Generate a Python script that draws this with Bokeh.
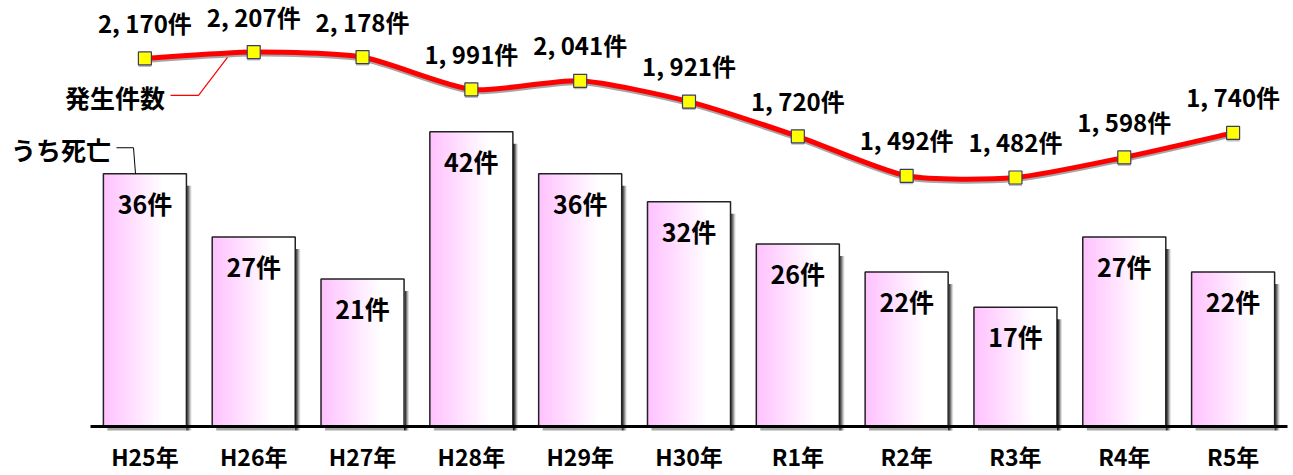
from bokeh.plotting import figure
from bokeh.models import Range1d
from bokeh.core.properties import value
from bokeh.embed import file_html
from bokeh.resources import INLINE

# --- data -------------------------------------------------------------
years = ["H25年", "H26年", "H27年", "H28年", "H29年", "H30年",
         "R1年", "R2年", "R3年", "R4年", "R5年"]
cases = [2170, 2207, 2178, 1991, 2041, 1921, 1720, 1492, 1482, 1598, 1740]
deaths = [36, 27, 21, 42, 36, 32, 26, 22, 17, 27, 22]

# --- layout -------------------------------------------------------------
W, H = 1293, 475
X0, X1 = -1.327, 10.555
Y0, Y1 = -6.98, 60.68
C0, C1 = -240, 2505
px_x = W / (X1 - X0)            # pixels per category step
px_y = H / (Y1 - Y0)            # pixels per death count
px_c = H / (C1 - C0)            # pixels per case count

FONT = value("Noto Sans CJK JP")

p = figure(width=W, height=H, output_backend="svg", toolbar_location=None,
           x_range=Range1d(X0, X1), y_range=Range1d(Y0, Y1),
           min_border=0, background_fill_color="white",
           border_fill_color="white", outline_line_color=None)
shade = 2.0 / px_c
p.extra_y_ranges = {"cases": Range1d(C0, C1),
                    "shade": Range1d(C0 + shade, C1 + shade)}
p.grid.visible = False
p.axis.visible = False

idx = list(range(len(years)))
bw = 0.763

# --- bar shadows --------------------------------------------------------
sh_l, sh_r, sh_t, sh_b, sh_a = [], [], [], [], []
alphas = [0.95, 0.8, 0.55, 0.3, 0.12]
for i, d in zip(idx, deaths):
    right = i + bw / 2
    for s, a in enumerate(alphas):
        sh_l.append(right + s / px_x)
        sh_r.append(right + (s + 1) / px_x)
        sh_t.append(d - 12 / px_y)
        sh_b.append(-4 / px_y)
        sh_a.append(a)
    # soft shade under the base line
    sh_l.append(i - bw / 2 + 4 / px_x)
    sh_r.append(right)
    sh_t.append(0)
    sh_b.append(-4 / px_y)
    sh_a.append(0.35)
p.quad(left=sh_l, right=sh_r, top=sh_t, bottom=sh_b, fill_color="black",
       fill_alpha=sh_a, line_color=None)

# --- bars with pink -> white gradient --------------------------------
N = 30
pink = (255, 194, 255)
g_l, g_r, g_t, g_c = [], [], [], []
for i, d in zip(idx, deaths):
    for k in range(N):
        f = k / N
        t = min(f / 0.7, 1.0)
        col = tuple(round(c + (255 - c) * t) for c in pink)
        g_l.append(i - bw / 2 + f * bw)
        g_r.append(i + bw / 2)
        g_t.append(d)
        g_c.append("#%02x%02x%02x" % col)
p.quad(left=g_l, right=g_r, top=g_t, bottom=[0] * len(g_l),
       fill_color=g_c, line_color=None)
p.quad(left=[i - bw / 2 for i in idx], right=[i + bw / 2 for i in idx],
       top=deaths, bottom=[0] * len(idx), fill_color=None,
       line_color="#222222", line_width=1.5)

# base line
p.segment(x0=[-0.5], y0=[0], x1=[len(years) - 0.5], y1=[0],
          line_color="black", line_width=3)

# bar value labels
p.text(x=idx, y=deaths, text=[f"{d}件" for d in deaths], y_offset=29,
       text_align="center", text_baseline="middle", text_font=FONT,
       text_font_style="bold", text_font_size="25px", text_color="black")

# category labels under the base line
p.text(x=idx, y=[0] * len(idx), text=years, y_offset=30,
       text_align="center", text_baseline="middle", text_font=FONT,
       text_font_style="bold", text_font_size="23px", text_color="black")

# --- smoothed case line (cubic Bezier through every point) -----------
n = len(cases)
TENS = 1 / 9
bx0, by0, bx1, by1, cx0, cy0, cx1, cy1 = [], [], [], [], [], [], [], []
for i in range(n - 1):
    a = max(i - 1, 0)
    b = min(i + 2, n - 1)
    bx0.append(i); by0.append(cases[i])
    bx1.append(i + 1); by1.append(cases[i + 1])
    cx0.append(i + (i + 1 - a) * TENS)
    cy0.append(cases[i] + (cases[i + 1] - cases[a]) * TENS)
    cx1.append(i + 1 - (b - i) * TENS)
    cy1.append(cases[i + 1] - (cases[b] - cases[i]) * TENS)
p.bezier(x0=bx0, y0=by0, x1=bx1, y1=by1, cx0=cx0, cy0=cy0, cx1=cx1, cy1=cy1,
         y_range_name="shade", line_color="black", line_alpha=0.35, line_width=5)
p.bezier(x0=bx0, y0=by0, x1=bx1, y1=by1, cx0=cx0, cy0=cy0, cx1=cx1, cy1=cy1,
         y_range_name="cases", line_color="#ff0000", line_width=5)
p.scatter(x=idx, y=cases, marker="square", size=13, y_range_name="shade",
          fill_color="black", fill_alpha=0.25, line_color=None)
p.scatter(x=idx, y=cases, marker="square", size=13, y_range_name="cases",
          fill_color="#ffff00", line_color="#3b3b6b", line_width=1.2)
p.text(x=idx, y=cases, text=[f"{c:,}件".replace(",", ", ") for c in cases],
       y_offset=-36, y_range_name="cases", text_align="center",
       text_baseline="middle", text_font=FONT, text_font_style="bold",
       text_font_size="24px", text_color="black")

# --- series captions with leader lines --------------------------------
p.text(x=[0], y=[cases[0]], text=["発生件数"], x_offset=20, y_offset=39,
       y_range_name="cases", text_align="right", text_baseline="middle",
       text_font=FONT, text_font_style="bold", text_font_size="25px")
lead_c = [(25.6, 37), (53.6, 37), (82.6, -1)]
p.line(x=[0 + dx / px_x for dx, dy in lead_c],
       y=[cases[0] - dy / px_c for dx, dy in lead_c],
       y_range_name="cases", line_color="#ff0000", line_width=1.2)

p.text(x=[0], y=[deaths[0]], text=["うち死亡"], x_offset=-34, y_offset=-25,
       text_align="right", text_baseline="middle", text_font=FONT,
       text_font_style="bold", text_font_size="25px")
lead_d = [(-28.4, -26), (-11.4, -26), (-9.4, 0)]
p.line(x=[0 + dx / px_x for dx, dy in lead_d],
       y=[deaths[0] - dy / px_y for dx, dy in lead_d],
       line_color="black", line_width=1)

open("out.html", "w").write(file_html(p, INLINE))
